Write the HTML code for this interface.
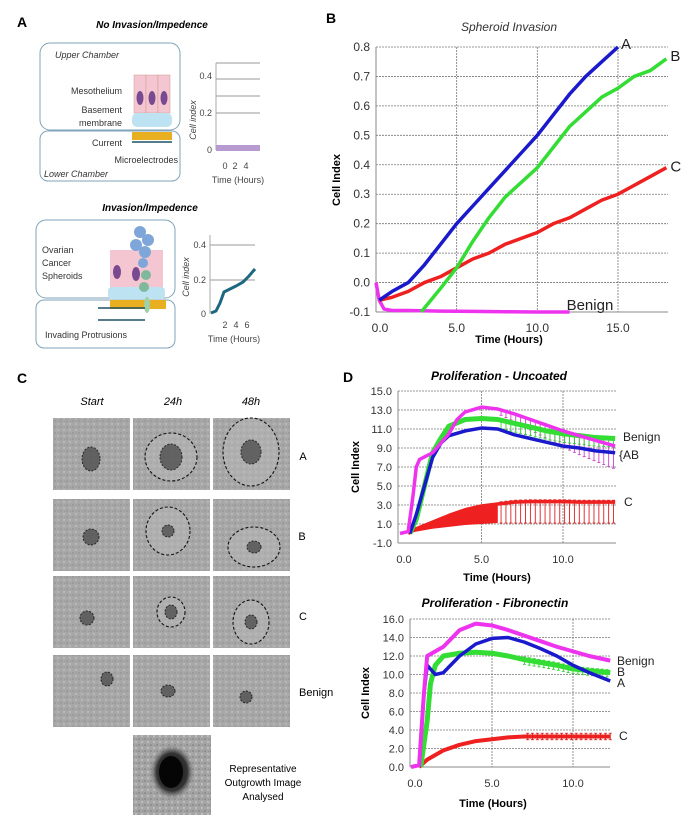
<!DOCTYPE html>
<html><head><meta charset="utf-8"><style>
body{margin:0;background:#fff}
svg{display:block;font-family:"Liberation Sans",sans-serif}
</style></head><body>
<svg id="fig" width="697" height="825" viewBox="0 0 697 825" xmlns="http://www.w3.org/2000/svg">
<defs>
<radialGradient id="spot" cx="50%" cy="50%" r="50%"><stop offset="0" stop-color="#111"/><stop offset="0.7" stop-color="#333"/><stop offset="1" stop-color="#777" stop-opacity="0"/></radialGradient>
<pattern id="tex" width="6" height="6" patternUnits="userSpaceOnUse"><rect width="6" height="6" fill="#a4a4a4"/><circle cx="1" cy="1" r="1" fill="#8a8a8a"/><circle cx="4" cy="4" r="1.2" fill="#bcbcbc"/><circle cx="4.5" cy="1.5" r="0.6" fill="#909090"/></pattern>
</defs>
<!-- PANEL A -->
<g>
<text x="17" y="27" font-size="14" font-weight="bold">A</text>
<text x="152" y="28" font-size="10" font-weight="bold" font-style="italic" text-anchor="middle">No Invasion/Impedence</text>
<rect x="40" y="43" width="140" height="87" rx="10" fill="none" stroke="#7fa3b8"/>
<rect x="40" y="131" width="140" height="50" rx="8" fill="none" stroke="#7fa3b8"/>
<text x="55" y="58" font-size="9" font-style="italic" fill="#333">Upper Chamber</text>
<g>
<rect x="134" y="75" width="12" height="38" fill="#f4c6d2" stroke="#c98" stroke-width="0.5"/><rect x="146" y="75" width="12" height="38" fill="#f4c6d2" stroke="#c98" stroke-width="0.5"/><rect x="158" y="75" width="12" height="38" fill="#f4c6d2" stroke="#c98" stroke-width="0.5"/>
<ellipse cx="140" cy="98" rx="3.5" ry="7" fill="#7a4a90"/><ellipse cx="152" cy="98" rx="3.5" ry="7" fill="#7a4a90"/><ellipse cx="164" cy="98" rx="3.5" ry="7" fill="#7a4a90"/>
<rect x="132" y="113" width="40" height="14" rx="5" fill="#bde3f2"/>
<rect x="132" y="132" width="40" height="8" fill="#e8b020"/>
</g>
<text x="122" y="94" font-size="9" text-anchor="end" fill="#333">Mesothelium</text>
<text x="122" y="113" font-size="9" text-anchor="end" fill="#333">Basement</text>
<text x="122" y="126" font-size="9" text-anchor="end" fill="#333">membrane</text>
<text x="122" y="146" font-size="9" text-anchor="end" fill="#333">Current</text>
<line x1="132" y1="142" x2="172" y2="142" stroke="#1d5060" stroke-width="1.5"/>
<text x="178" y="163" font-size="9" text-anchor="end" fill="#333">Microelectrodes</text>
<text x="44" y="177" font-size="9" font-style="italic" fill="#333">Lower Chamber</text>
<g>
<line x1="216" y1="63" x2="216" y2="150" stroke="#aaa"/>
<line x1="216" y1="63" x2="260" y2="63" stroke="#999"/><line x1="216" y1="79" x2="260" y2="79" stroke="#999"/><line x1="216" y1="96" x2="260" y2="96" stroke="#999"/><line x1="216" y1="113" x2="260" y2="113" stroke="#999"/>
<rect x="216" y="145" width="44" height="6" fill="#b79ad0"/>
<text x="212" y="79" font-size="9" text-anchor="end" fill="#444">0.4</text>
<text x="212" y="116" font-size="9" text-anchor="end" fill="#444">0.2</text>
<text x="212" y="153" font-size="9" text-anchor="end" fill="#444">0</text>
<text x="225" y="169" font-size="9" text-anchor="middle" fill="#444">0</text><text x="235" y="169" font-size="9" text-anchor="middle" fill="#444">2</text><text x="246" y="169" font-size="9" text-anchor="middle" fill="#444">4</text>
<text x="238" y="183" font-size="9" text-anchor="middle" fill="#444">Time (Hours)</text>
<text transform="translate(196,120) rotate(-90)" font-size="9" font-style="italic" text-anchor="middle" fill="#444">Cell index</text>
</g>
<text x="150" y="211" font-size="10" font-weight="bold" font-style="italic" text-anchor="middle">Invasion/Impedence</text>
<rect x="36" y="220" width="139" height="78" rx="10" fill="none" stroke="#7fa3b8"/>
<rect x="36" y="300" width="139" height="48" rx="8" fill="none" stroke="#7fa3b8"/>
<text x="42" y="253" font-size="9" fill="#333">Ovarian</text><text x="42" y="266" font-size="9" fill="#333">Cancer</text><text x="42" y="279" font-size="9" fill="#333">Spheroids</text>
<g>
<rect x="110" y="250" width="18" height="38" fill="#f4c6d2"/><rect x="128" y="250" width="18" height="38" fill="#f4c6d2"/><rect x="146" y="250" width="17" height="38" fill="#f4c6d2"/>
<ellipse cx="117" cy="272" rx="4" ry="7" fill="#7a4a90"/><ellipse cx="136" cy="274" rx="4" ry="7" fill="#7a4a90"/>
<rect x="108" y="287" width="57" height="12" rx="4" fill="#bde3f2"/>
<rect x="110" y="300" width="56" height="9" fill="#e8b020"/>
<circle cx="140" cy="232" r="6" fill="#7fa6d8"/><circle cx="148" cy="240" r="6" fill="#7fa6d8"/><circle cx="136" cy="245" r="6" fill="#7fa6d8"/><circle cx="145" cy="252" r="6" fill="#7fa6d8"/><circle cx="143" cy="263" r="5" fill="#7fa6d8"/><circle cx="146" cy="275" r="5" fill="#7fb89a"/><circle cx="144" cy="287" r="5" fill="#7fb89a"/><ellipse cx="147" cy="305" rx="3" ry="8" fill="#9fd0a6"/>
</g>
<line x1="98" y1="308" x2="145" y2="308" stroke="#1d5060" stroke-width="1.5"/><line x1="98" y1="320" x2="145" y2="320" stroke="#1d5060" stroke-width="1.5"/>
<text x="45" y="338" font-size="9" fill="#333">Invading Protrusions</text>
<g>
<line x1="210" y1="235" x2="210" y2="314" stroke="#aaa"/>
<line x1="210" y1="245" x2="255" y2="245" stroke="#999"/><line x1="210" y1="280" x2="255" y2="280" stroke="#999"/>
<polyline points="211,313 216,311 220,303 224,292 230,289 236,286 243,282 249,276 255,269" fill="none" stroke="#1d6880" stroke-width="3"/>
<text x="206" y="248" font-size="9" text-anchor="end" fill="#444">0.4</text><text x="206" y="283" font-size="9" text-anchor="end" fill="#444">0.2</text><text x="206" y="317" font-size="9" text-anchor="end" fill="#444">0</text>
<text x="225" y="328" font-size="9" text-anchor="middle" fill="#444">2</text><text x="236" y="328" font-size="9" text-anchor="middle" fill="#444">4</text><text x="247" y="328" font-size="9" text-anchor="middle" fill="#444">6</text>
<text x="234" y="342" font-size="9" text-anchor="middle" fill="#444">Time (Hours)</text>
<text transform="translate(189,277) rotate(-90)" font-size="9" font-style="italic" text-anchor="middle" fill="#444">Cell index</text>
</g>
</g>
<!-- PANEL C -->
<g id="panelC">
<text x="17" y="383" font-size="14" font-weight="bold">C</text>
<text x="92" y="405" font-size="11" font-style="italic" text-anchor="middle">Start</text>
<text x="173" y="405" font-size="11" font-style="italic" text-anchor="middle">24h</text>
<text x="251" y="405" font-size="11" font-style="italic" text-anchor="middle">48h</text>
<text x="303" y="460" font-size="11" text-anchor="middle">A</text>
<text x="302" y="540" font-size="11" text-anchor="middle">B</text>
<text x="303" y="620" font-size="11" text-anchor="middle">C</text>
<text x="299" y="696" font-size="11">Benign</text>
<text x="263" y="772" font-size="10" text-anchor="middle">Representative</text>
<text x="263" y="786" font-size="10" text-anchor="middle">Outgrowth Image</text>
<text x="263" y="800" font-size="10" text-anchor="middle">Analysed</text>
</g>
<!-- PANEL B -->
<g id="panelB">
<text x="326" y="23" font-size="14" font-weight="bold">B</text>
<text x="509" y="31" font-size="12" font-style="italic" text-anchor="middle" fill="#333">Spheroid Invasion</text>
<text transform="translate(340,180) rotate(-90)" font-size="11" font-weight="bold" text-anchor="middle">Cell Index</text>
<text x="509" y="343" font-size="11" font-weight="bold" text-anchor="middle">Time (Hours)</text>
</g>
<!-- PANEL D -->
<g id="panelD">
<text x="343" y="382" font-size="14" font-weight="bold">D</text>
<text x="499" y="380" font-size="12" font-weight="bold" font-style="italic" text-anchor="middle">Proliferation - Uncoated</text>
<text transform="translate(359,467) rotate(-90)" font-size="11" font-weight="bold" text-anchor="middle">Cell Index</text>
<text x="497" y="581" font-size="11" font-weight="bold" text-anchor="middle">Time (Hours)</text>
<text x="495" y="607" font-size="12" font-weight="bold" font-style="italic" text-anchor="middle">Proliferation - Fibronectin</text>
<text transform="translate(369,693) rotate(-90)" font-size="11" font-weight="bold" text-anchor="middle">Cell Index</text>
<text x="493" y="807" font-size="11" font-weight="bold" text-anchor="middle">Time (Hours)</text>
</g>
</svg>
<script>
// ---- Panel B data ----
const bTicksY = [-0.1,0,0.1,0.2,0.3,0.4,0.5,0.6,0.7,0.8];
const bTicksX = [0,5,10,15];
const bA_x = [0.2,1,2,3,4,5,6,7,8,9,10,11,12,13,14,15];
const bA_y = [-0.06,-0.03,0.0,0.06,0.13,0.2,0.26,0.32,0.38,0.44,0.5,0.57,0.64,0.7,0.75,0.8];
const bB_x = [2.8,4,5,6,7,8,9,10,11,12,13,14,15,16,17,18];
const bB_y = [-0.1,-0.02,0.05,0.14,0.22,0.29,0.34,0.39,0.46,0.53,0.58,0.63,0.66,0.7,0.72,0.76];
const bC_x = [0.2,1,2,3,4,5,6,7,8,9,10,11,12,13,14,15,16,17,18];
const bC_y = [-0.06,-0.05,-0.03,0.0,0.02,0.05,0.08,0.1,0.13,0.15,0.17,0.2,0.22,0.25,0.28,0.3,0.33,0.36,0.39];
const bBen_x = [0,0.2,0.5,1,2,4,6,8,10,12];
const bBen_y = [0.0,-0.06,-0.09,-0.095,-0.095,-0.097,-0.098,-0.099,-0.1,-0.1];
// ---- Panel D uncoated ----
const uTicksY = [-1,1,3,5,7,9,11,13,15];
const uTicksX = [0,5,10];
const uMag_x = [0,0.5,0.8,1,1.2,2,3,3.5,4,5,6,7,8,9,10,11,12,13.2];
const uMag_y = [0,0.2,4,7,7.8,8.5,10.5,12,12.8,13.3,13.1,12.6,12,11.4,10.8,10.3,9.8,9.2];
const uMagErr = [0,0,0,0,0,0,0,0,0,0,0.5,0.8,1.1,1.4,1.7,2,2.2,2.4];
const uGrn_x = [0.6,1,1.5,2,2.5,3,4,5,6,7,8,9,10,11,12,13.2];
const uGrn_y = [0,1.5,5,8.5,10,11.3,12,12.1,12,11.6,11.2,10.8,10.5,10.3,10.1,10];
const uBlu_x = [0.6,1,1.5,2,2.5,3,4,5,6,7,8,9,10,11,12,13.2];
const uBlu_y = [0,2,5,8,9.5,10.3,10.8,11.1,11,10.4,10,9.6,9.2,9,8.7,8.5];
const uRed_x = [0.5,1,2,3,4,5,6,7,8,9,10,11,12,13.2];
const uRed_y = [0,0.5,1.2,1.9,2.5,2.9,3.1,3.3,3.35,3.35,3.35,3.3,3.3,3.3];
const uRed_lo = [0,0.2,0.5,0.7,0.9,1.0,1.1,1.1,1.1,1.1,1.1,1.1,1.1,1.1];
// ---- Panel D fibronectin ----
const fTicksY = [0,2,4,6,8,10,12,14,16];
const fTicksX = [0,5,10];
const fMag_x = [0,0.5,0.8,1,1.5,2,3,4,5,6,7,8,9,10,11,12.3];
const fMag_y = [0,0.2,8,12,12.5,13,14.8,15.5,15.3,14.8,14.2,13.6,13,12.5,12,11.5];
const fBlu_x = [0.5,0.8,1,1.5,2,3,4,5,6,7,8,9,10,11,12.3];
const fBlu_y = [0,8,11,10,10.2,12,13.3,13.9,14,13.5,12.8,12,11,10.2,9.3];
const fGrn_x = [0.6,1,1.2,1.5,2,3,4,5,6,7,8,9,10,11,12.3];
const fGrn_y = [0,5,9,11,12,12.3,12.4,12.3,12,11.6,11.3,11,10.6,10.4,10.2];
const fRed_x = [0.5,1,2,3,4,5,6,7,8,9,10,11,12.3];
const fRed_y = [0,0.8,1.8,2.4,2.8,3.0,3.2,3.3,3.3,3.3,3.3,3.3,3.3];
const fRed_err = [0,0,0,0,0,0,0,0.35,0.35,0.35,0.35,0.35,0.35];

const NS='http://www.w3.org/2000/svg';
function el(tag,attrs,parent,txt){const e=document.createElementNS(NS,tag);for(const k in attrs)e.setAttribute(k,attrs[k]);if(txt!==undefined)e.textContent=txt;parent.appendChild(e);return e;}
function lin(d0,d1,r0,r1){return v=>r0+(v-d0)*(r1-r0)/(d1-d0);}

function axes(g,sx,sy,x0,x1,y0,y1,tx,ty,fmtY,fs){
  ty.forEach(v=>{
    const l=el('line',{x1:x0,x2:x1,y1:sy(v),y2:sy(v),stroke:'#777','stroke-dasharray':'2,1','stroke-width':0.8},g);
    
    
    const t=el('text',{x:x0-6,y:sy(v)+4,'font-size':fs,'text-anchor':'end',fill:'#333'},g,v.toFixed(1));
    
    
  });
  tx.forEach(v=>{
    if(v>0){const l=el('line',{x1:sx(v),x2:sx(v),y1:y0,y2:y1,stroke:'#777','stroke-dasharray':'2,1','stroke-width':0.8},g);
    
    }
    const t=el('text',{x:sx(v)+ (v===0?4:0),y:y1+20,'font-size':fs,'text-anchor':'middle',fill:'#333'},g,v.toFixed(1));
    
    
  });
  el('line',{x1:x0,x2:x0,y1:y0,y2:y1,stroke:'#888'},g);
  el('line',{x1:x0,x2:x1,y1:y1,y2:y1,stroke:'#888'},g);
}
function series(g,sx,sy,xs,ys,color,name,w){
  const p=el('polyline',{points:xs.map((x,i)=>sx(x)+','+sy(ys[i])).join(' '),fill:'none',stroke:color,'stroke-width':w||3.5,'stroke-linejoin':'round'},g);
  
  
}
function errbars(g,sx,sy,xs,ys,lo,hi,color,name,from){
  const xmax=xs[xs.length-1];
  for(let t=from;t<=xmax+0.001;t+=0.3){
    let i=0;while(i<xs.length-2&&xs[i+1]<t)i++;
    const f=(t-xs[i])/(xs[i+1]-xs[i]);
    const lv=lo[i]+(lo[i+1]-lo[i])*f, hv=hi[i]+(hi[i+1]-hi[i])*f;
    const l=el('line',{x1:sx(t),x2:sx(t),y1:sy(lv),y2:sy(hv),stroke:color,'stroke-width':0.9},g);
    
    
    el('line',{x1:sx(t)-1.5,x2:sx(t)+1.5,y1:sy(hv),y2:sy(hv),stroke:color,'stroke-width':0.9},g);
    el('line',{x1:sx(t)-1.5,x2:sx(t)+1.5,y1:sy(lv),y2:sy(lv),stroke:color,'stroke-width':0.9},g);
  }
}
function lbl(g,x,y,s,name,fs){const t=el('text',{x:x,y:y,'font-size':fs||13,fill:'#222'},g,s);}

// Panel B
(function(){
  const g=document.getElementById('panelB');
  const sx=lin(0,18.1,376,668), sy=lin(-0.1,0.8,312,47);
  axes(g,sx,sy,376,668,47,312,bTicksX,bTicksY,null,12);
  series(g,sx,sy,bBen_x,bBen_y,'#ee33ee','series-benign-b');
  series(g,sx,sy,bC_x,bC_y,'#ee2020','series-c-b');
  series(g,sx,sy,bB_x,bB_y,'#33dd33','series-b-b');
  series(g,sx,sy,bA_x,bA_y,'#1a1acc','series-a-b');
  lbl(g,sx(15)+3,sy(0.8)+2,'A','label-a-b',15);
  lbl(g,sx(18)+4,sy(0.76)+2,'B','label-b-b',15);
  lbl(g,sx(18)+4,sy(0.39)+4,'C','label-c-b',15);
  lbl(g,sx(12)-3,sy(-0.1)-2,'Benign','label-benign-b',15);
})();
// Panel D uncoated
(function(){
  const g=document.getElementById('panelD');
  const sx=lin(0,5,400,481.5), sy=lin(-1,15,543,391);
  axes(g,sx,sy,398,616,391,543,uTicksX,uTicksY,null,11);
  const rx=uRed_x.filter(x=>x<=6.2);
  const band=el('polygon',{points:rx.map((x,i)=>sx(x)+','+sy(uRed_y[i])).concat(rx.slice().reverse().map((x,j)=>{const i=rx.length-1-j;return sx(x)+','+sy(uRed_lo[i]);})).join(' '),fill:'#ee2020'},g);
  
  
  errbars(g,sx,sy,uRed_x,uRed_y,uRed_lo,uRed_y.map(v=>v+0.2),'#dd2020','error-bar-c-uncoated',6.2);
  series(g,sx,sy,uRed_x,uRed_y,'#ee2020','series-c-uncoated');
  errbars(g,sx,sy,uMag_x,uMag_y,uMag_y.map((v,i)=>v-uMagErr[i]),uMag_y,'#cc44cc','error-bar-benign-uncoated',6.2);
  errbars(g,sx,sy,uGrn_x,uGrn_y,uGrn_y.map(v=>v-0.9),uGrn_y,'#33cc33','error-bar-b-uncoated',6.2);
  series(g,sx,sy,uGrn_x,uGrn_y,'#33dd33','series-b-uncoated',5);
  series(g,sx,sy,uBlu_x,uBlu_y,'#1a1acc','series-a-uncoated');
  series(g,sx,sy,uMag_x,uMag_y,'#ee33ee','series-benign-uncoated');
  lbl(g,623,441,'Benign','label-benign-uncoated',12);
  lbl(g,619,459,'{AB','label-ab-uncoated',12);
  lbl(g,624,506,'C','label-c-uncoated',12);
})();
// Panel D fibronectin
(function(){
  const g=document.getElementById('panelD');
  const sx=lin(0,5,411,492), sy=lin(0,16,767,619);
  axes(g,sx,sy,410,610,619,767,fTicksX,fTicksY,null,11);
  series(g,sx,sy,fRed_x,fRed_y,'#ee2020','series-c-fibronectin',4);
  errbars(g,sx,sy,fRed_x,fRed_y,fRed_y.map((v,i)=>v-fRed_err[i]),fRed_y.map((v,i)=>v+fRed_err[i]),'#dd2020','error-bar-c-fibronectin',7.2);
  errbars(g,sx,sy,fGrn_x,fGrn_y,fGrn_y.map(v=>v-0.5),fGrn_y.map(v=>v+0.3),'#33cc33','error-bar-b-fibronectin',7);
  series(g,sx,sy,fGrn_x,fGrn_y,'#33dd33','series-b-fibronectin',5);
  series(g,sx,sy,fBlu_x,fBlu_y,'#1a1acc','series-a-fibronectin');
  series(g,sx,sy,fMag_x,fMag_y,'#ee33ee','series-benign-fibronectin',4);
  lbl(g,617,665,'Benign','label-benign-fibronectin',12);
  lbl(g,617,676,'B','label-b-fibronectin',12);
  lbl(g,617,687,'A','label-a-fibronectin',12);
  lbl(g,619,740,'C','label-c-fibronectin',12);
})();
// Panel C photos
(function(){
  const g=document.getElementById('panelC');
  const cols=[53,133,213], rows=[418,499,576,655];
  const outer=[[0,0],[26,24],[28,34],[0,0],[22,24],[26,20],[0,0],[14,15],[18,22],[0,0],[0,0],[0,0]];
  const inner=[[9,12],[11,13],[10,12],[8,8],[6,6],[7,6],[7,7],[6,7],[6,7],[6,7],[7,6],[6,6]];
  const offs=[[0,5],[0,3],[0,-2],[0,2],[-3,-4],[3,12],[-4,6],[0,0],[0,10],[16,-12],[-3,0],[-5,6]];
  rows.forEach((ry,r)=>cols.forEach((cx,c)=>{
    const k=r*3+c;
    const R=el('rect',{x:cx,y:ry,width:77,height:72,fill:'url(#tex)'},g);
    
    
    el('rect',{x:cx,y:ry,width:77,height:72,fill:'#b0b0b0',opacity:0.35},g);
    const mx=cx+38+offs[k][0], my=ry+36+offs[k][1];
    if(outer[k][0]){
      el('ellipse',{cx:mx,cy:my,rx:outer[k][0],ry:outer[k][1],fill:'#bbb',opacity:0.45},g);
      el('ellipse',{cx:mx,cy:my,rx:outer[k][0],ry:outer[k][1],fill:'none',stroke:'#111','stroke-dasharray':'3,2','stroke-width':1.1},g);
    }
    el('ellipse',{cx:mx,cy:my,rx:inner[k][0],ry:inner[k][1],fill:'#555',opacity:0.85,stroke:'#111','stroke-dasharray':'2,1.5','stroke-width':1},g);
  }));
  const R=el('rect',{x:133,y:735,width:78,height:80,fill:'url(#tex)'},g);
  
  
  el('ellipse',{cx:172,cy:772,rx:22,ry:27,fill:'url(#spot)'},g);
  el('ellipse',{cx:171,cy:772,rx:12,ry:16,fill:'#050505'},g);
})();
</script>
</body></html>
